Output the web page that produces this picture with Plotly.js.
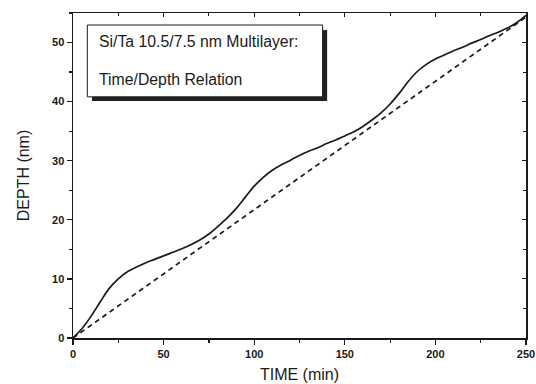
<!DOCTYPE html>
<html>
<head>
<meta charset="utf-8">
<script src="https://cdn.plot.ly/plotly-3.0.1.min.js"></script>
<style>html,body{margin:0;padding:0;background:#fff;}#chart{width:536px;height:384px;}</style>
</head>
<body>
<div id="chart"></div>
<script>
// Measured curve: time (min) vs depth (nm)
const timeMin = [0,5,10,15,20,25,30,35,40,45,50,55,60,65,70,75,80,85,90,95,100,105,110,115,120,125,130,135,140,145,150,155,160,165,170,175,180,185,190,195,200,205,210,215,220,225,230,235,240,245,250];
const depthNm = [0,1.6,3.7,6.1,8.4,10.0,11.2,12.0,12.7,13.3,13.9,14.5,15.1,15.8,16.6,17.6,18.9,20.3,21.9,23.8,25.7,27.2,28.4,29.3,30.1,30.9,31.6,32.2,32.9,33.5,34.2,34.9,35.8,36.9,38.1,39.6,41.4,43.4,45.1,46.3,47.2,47.9,48.6,49.2,49.9,50.5,51.2,51.8,52.5,53.4,54.6];
// Linear reference
const linTime = [0,250];
const linDepth = [0,54.3];
const xTicks = [0,50,100,150,200,250];
const yTicks = [0,10,20,30,40,50];
const boxLine1 = "Si/Ta 10.5/7.5 nm Multilayer:";
const boxLine2 = "Time/Depth Relation";

const ink = '#1a1a1a';
const fam = 'Liberation Sans, Arial, sans-serif';
const traces = [
  {x: timeMin, y: depthNm, mode: 'lines', line: {color: ink, width: 1.7, shape: 'spline', smoothing: 1}, hoverinfo: 'skip'},
  {x: linTime, y: linDepth, mode: 'lines', line: {color: ink, width: 1.7, dash: '5px,4px'}, hoverinfo: 'skip'}
];
const tickFont = {family: fam, size: 11, color: ink, weight: 'bold'};
const layout = {
  width: 536, height: 384,
  margin: {l: 73, r: 10, t: 13, b: 46},
  paper_bgcolor: '#fff', plot_bgcolor: '#fff',
  showlegend: false,
  xaxis: {
    range: [0, 250], tickvals: xTicks, ticktext: xTicks.map(String),
    ticks: 'outside', ticklen: 5, tickwidth: 1.2, tickcolor: ink,
    minor: {dtick: 25, tick0: 0, ticks: 'outside', ticklen: 3, tickcolor: ink},
    showline: true, linecolor: ink, linewidth: 1.5, showgrid: false, zeroline: false,
    tickfont: tickFont,
    title: {text: 'TIME (min)', font: {family: fam, size: 16, color: ink}, standoff: 10}
  },
  yaxis: {
    range: [0, 55], tickvals: yTicks, ticktext: yTicks.map(String),
    ticks: 'outside', ticklen: 5, tickwidth: 1.2, tickcolor: ink,
    minor: {dtick: 5, tick0: 0, ticks: 'outside', ticklen: 3, tickcolor: ink},
    showline: true, linecolor: ink, linewidth: 1.5, showgrid: false, zeroline: false,
    tickfont: tickFont,
    title: {text: 'DEPTH (nm)', font: {family: fam, size: 16, color: ink}, standoff: 18}
  },
  xaxis2: {
    overlaying: 'x', side: 'top', matches: 'x', range: [0, 250],
    tickvals: xTicks, showticklabels: false,
    ticks: 'inside', ticklen: 4, tickcolor: ink,
    minor: {dtick: 25, tick0: 0, ticks: 'inside', ticklen: 3, tickcolor: ink},
    showline: true, linecolor: ink, linewidth: 1.5, showgrid: false, zeroline: false
  },
  yaxis2: {
    overlaying: 'y', side: 'right', matches: 'y', range: [0, 55],
    tickvals: yTicks, showticklabels: false,
    ticks: 'inside', ticklen: 4, tickcolor: ink,
    minor: {dtick: 5, tick0: 0, ticks: 'inside', ticklen: 3, tickcolor: ink},
    showline: true, linecolor: ink, linewidth: 1.5, showgrid: false, zeroline: false
  },
  shapes: [
    {type: 'rect', xref: 'paper', yref: 'paper', x0: 0.042, x1: 0.561, y0: 0.729, y1: 0.948,
     fillcolor: '#222', line: {width: 0}, layer: 'above'},
    {type: 'rect', xref: 'paper', yref: 'paper', x0: 0.0316, x1: 0.551, y0: 0.742, y1: 0.963,
     fillcolor: '#fff', line: {color: ink, width: 1}, layer: 'above'}
  ],
  annotations: [
    {xref: 'paper', yref: 'paper', x: 0.054, y: 0.913, xanchor: 'left', yanchor: 'middle', showarrow: false,
     text: boxLine1, font: {family: fam, size: 15.8, color: ink}},
    {xref: 'paper', yref: 'paper', x: 0.054, y: 0.795, xanchor: 'left', yanchor: 'middle', showarrow: false,
     text: boxLine2, font: {family: fam, size: 15.8, color: ink}}
  ]
};
// invisible trace to activate the mirror axes
traces.push({x: [0], y: [0], xaxis: 'x2', yaxis: 'y2', mode: 'markers', marker: {opacity: 0}, hoverinfo: 'skip'});
Plotly.newPlot('chart', traces, layout, {staticPlot: true, displayModeBar: false});
</script>
</body>
</html>
